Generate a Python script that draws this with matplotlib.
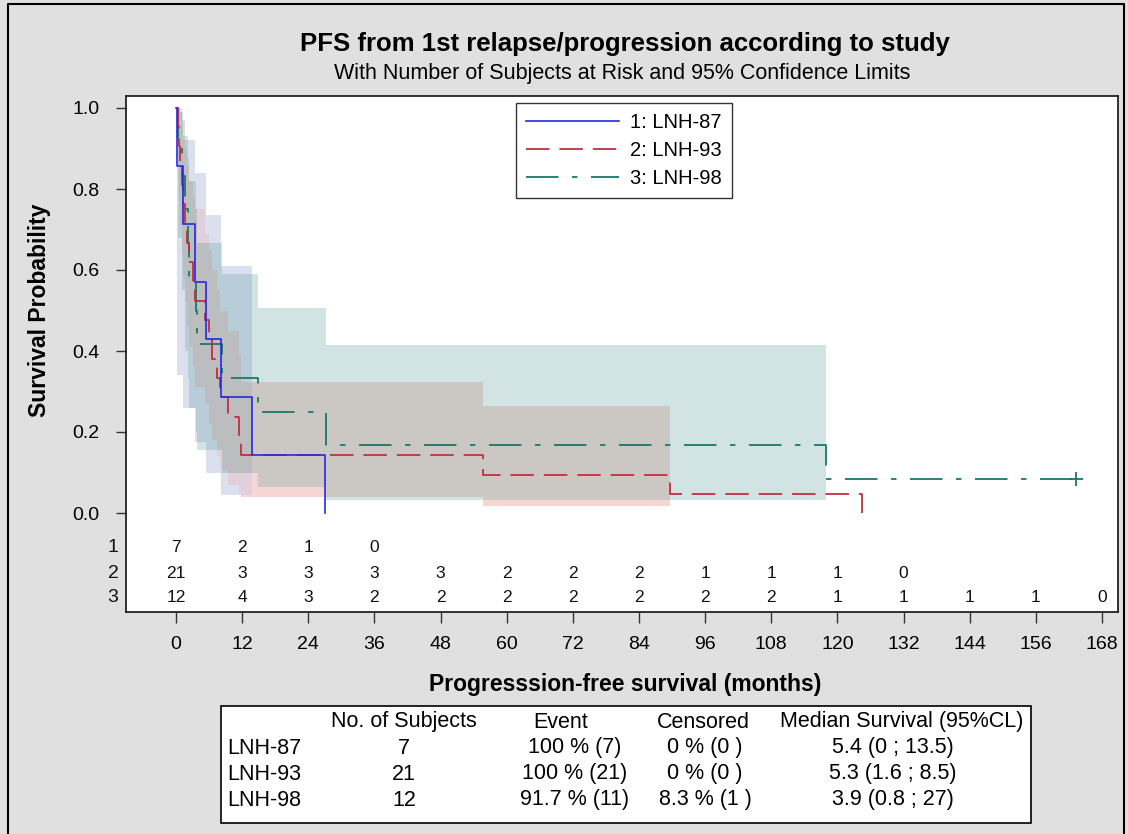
import numpy as np
import matplotlib
matplotlib.use('Agg')
import matplotlib.pyplot as plt
from matplotlib.lines import Line2D
from matplotlib.patches import Rectangle
import matplotlib.transforms as mtransforms

plt.rcParams['font.family'] = ['Liberation Sans', 'DejaVu Sans']

# ---------------- data ----------------
legend_labels = ['1: LNH-87', '2: LNH-93', '3: LNH-98']

# Kaplan-Meier curves: times (months) and survival after each step
t87 = [0, 0.2, 1.3, 3.4, 5.4, 8.1, 13.7, 27.0]
s87 = [1.0, 0.857, 0.714, 0.571, 0.429, 0.286, 0.143, 0.0]

t93 = [0, 0.3, 0.5, 0.8, 1.0, 1.2, 1.6, 2.0, 2.4, 3.0, 3.5, 5.3, 6.0, 6.6, 7.4,
       8.0, 9.4, 11.4, 11.8, 55.7, 89.7, 124.4]
s93 = [1.0, 0.952, 0.905, 0.857, 0.810, 0.762, 0.714, 0.667, 0.619, 0.571, 0.524,
       0.476, 0.429, 0.381, 0.333, 0.286, 0.238, 0.190, 0.143, 0.095, 0.048, 0.0]

t98 = [0, 0.4, 1.0, 1.6, 2.2, 2.4, 3.6, 3.9, 8.3, 14.9, 27.3, 118.0, 163.3]
s98 = [1.0, 0.917, 0.833, 0.75, 0.667, 0.583, 0.5, 0.417, 0.333, 0.25, 0.167,
       0.083, 0.083]
censor98_t = [163.3]
censor98_s = [0.083]

# 95% confidence bands (one value per step interval)
lo87 = [0.34, 0.26, 0.175, 0.10, 0.044]
hi87 = [0.99, 0.92, 0.84, 0.735, 0.61]
lo93 = [0.86, 0.77, 0.71, 0.64, 0.58, 0.52, 0.46, 0.41, 0.36, 0.31, 0.27, 0.22,
        0.18, 0.14, 0.106, 0.07, 0.05, 0.04, 0.017]
hi93 = [1.0, 1.0, 0.99, 0.96, 0.93, 0.90, 0.86, 0.82, 0.78, 0.75, 0.69, 0.65,
        0.60, 0.55, 0.50, 0.45, 0.39, 0.324, 0.264]
lo98 = [0.68, 0.55, 0.40, 0.33, 0.26, 0.20, 0.155, 0.10, 0.065, 0.032]
hi98 = [1.0, 0.97, 0.93, 0.88, 0.82, 0.75, 0.667, 0.59, 0.505, 0.415]

# number at risk
risk_times = [0, 12, 24, 36, 48, 60, 72, 84, 96, 108, 120, 132, 144, 156, 168]
risk87 = [7, 2, 1, 0]
risk93 = [21, 3, 3, 3, 3, 2, 2, 2, 1, 1, 1, 0]
risk98 = [12, 4, 3, 2, 2, 2, 2, 2, 2, 2, 1, 1, 1, 1, 0]

# summary table
tab_groups = ['LNH-87', 'LNH-93', 'LNH-98']
tab_n = ['7', '21', '12']
tab_event = ['100 % (7)', '100 % (21)', '91.7 % (11)']
tab_cens = ['0 % (0 )', '0 % (0 )', '8.3 % (1 )']
tab_median = ['5.4 (0 ; 13.5)', '5.3 (1.6 ; 8.5)', '3.9 (0.8 ; 27)']
tab_header = ['No. of Subjects', 'Event', 'Censored', 'Median Survival (95%CL)']

# ---------------- styling ----------------
c_blue = '#2828e6'
c_red = '#c0303f'
c_green = '#1b7868'
ls_red = (0, (13, 5.5))
ls_green = (0, (18, 7.5, 3, 7.5))
band_colors = {
    'B': '#dbdfee', 'R': '#f6d6d3', 'G': '#d2e3e3',
    'BR': '#e0d0da', 'BG': '#b8cdd7', 'RG': '#cbc8c4', 'BRG': '#bbbdbf',
}

W, H = 1128, 834
fig = plt.figure(figsize=(W / 100, H / 100), dpi=100, facecolor='#e0e0e0')


def fx(px):
    return px / W


def fy(py):
    return 1 - py / H


ax = fig.add_axes([fx(126), fy(612), fx(1118) - fx(126), fy(96) - fy(612)])
ax.set_facecolor('white')

px_per_month = (1102 - 176) / 168.0
ax.set_xlim((126 - 176) / px_per_month, (1118 - 176) / px_per_month)
ax.set_ylim(-(612 - 513) / 405.0, (513 - 96) / 405.0)

# ---- confidence bands with explicit overlap colours ----
bands = {
    'B': (t87[1:len(lo87) + 2], lo87, hi87),
    'R': (t93[1:len(lo93) + 2], lo93, hi93),
    'G': (t98[1:len(lo98) + 2], lo98, hi98),
}


def band_at(edges, lo, hi, x):
    i = np.searchsorted(edges, x, side='right') - 1
    if 0 <= i < len(lo):
        return lo[i], hi[i]
    return None


all_edges = sorted(set().union(*[set(b[0]) for b in bands.values()]))
for a, b in zip(all_edges[:-1], all_edges[1:]):
    mid = 0.5 * (a + b)
    present = {}
    for key, (e, l, h) in bands.items():
        r = band_at(e, l, h, mid)
        if r is not None:
            present[key] = r
    ys = sorted({v for r in present.values() for v in r})
    for y0, y1 in zip(ys[:-1], ys[1:]):
        ym = 0.5 * (y0 + y1)
        cover = ''.join(k for k in 'BRG' if k in present and present[k][0] <= ym <= present[k][1])
        if cover:
            ax.bar(a, y1 - y0, width=b - a, bottom=y0, align='edge',
                   color=band_colors[cover], linewidth=0, antialiased=False, zorder=1)

# ---- KM curves ----
ax.step(t98, s98, where='post', color=c_green, lw=1.3, ls=ls_green, zorder=3)
ax.step(t93, s93, where='post', color=c_red, lw=1.3, ls=ls_red, zorder=4)
ax.step(t87, s87, where='post', color=c_blue, lw=1.2, ls='-', zorder=5)
ax.plot(censor98_t, censor98_s, ls='none', marker='+', ms=10, mew=1.3, color=c_green, zorder=6)

# ---- axes ----
ax.set_xticks(risk_times)
ax.set_xticklabels([str(v) for v in risk_times])
yt = [0.0, 0.2, 0.4, 0.6, 0.8, 1.0]
ax.set_yticks(yt)
ax.set_yticklabels(['%.1f' % v for v in yt])
ax.tick_params(axis='x', length=8, width=1.0, pad=9, labelsize=14, color='#333333')
ax.tick_params(axis='y', length=7, width=1.0, pad=12, labelsize=14, color='#333333')
for sp in ax.spines.values():
    sp.set_linewidth(1.3)
    sp.set_color('#222222')

# ---- at risk ----
blend = mtransforms.blended_transform_factory(ax.transData, ax.transAxes)
row_y = [(612 - 548) / 516.0, (612 - 573) / 516.0, (612 - 598) / 516.0]
for row, counts in enumerate([risk87, risk93, risk98]):
    for tt, n in zip(risk_times, counts):
        ax.text(tt, row_y[row], str(n), transform=blend, ha='center', va='center',
                fontsize=12.5, color='#111111')
    ax.text((113 - 126) / 992.0, row_y[row], str(row + 1), transform=ax.transAxes,
            ha='center', va='center', fontsize=14, color='#111111')

# ---- legend ----
handles = [Line2D([], [], color=c_blue, lw=1.2, ls='-'),
           Line2D([], [], color=c_red, lw=1.3, ls=ls_red),
           Line2D([], [], color=c_green, lw=1.3, ls=ls_green)]
leg = ax.legend(handles, legend_labels, loc='upper left',
                bbox_to_anchor=((516 - 126) / 992.0, (612 - 103) / 516.0),
                fontsize=14.5, handlelength=4.6, handletextpad=0.55, borderpad=0.5,
                labelspacing=0.45, frameon=True, fancybox=False, borderaxespad=0)
leg.get_frame().set_edgecolor('black')
leg.get_frame().set_linewidth(1.0)

# ---- titles & labels ----
fig.text(fx(625), fy(44), 'PFS from 1st relapse/progression according to study',
         ha='center', va='center', fontsize=18.5, fontweight='bold')
fig.text(fx(622), fy(73), 'With Number of Subjects at Risk and 95% Confidence Limits',
         ha='center', va='center', fontsize=15.5)
fig.text(fx(40), fy(310), 'Survival Probability', rotation=90, ha='center', va='center',
         fontsize=16.5, fontweight='bold')
fig.text(fx(625), fy(685), 'Progresssion-free survival (months)', ha='center', va='center',
         fontsize=16.5, fontweight='bold')

# ---- summary table ----
fig.patches.append(Rectangle((fx(221), fy(823)), fx(1031) - fx(221), fy(706) - fy(823),
                             transform=fig.transFigure, facecolor='white',
                             edgecolor='black', linewidth=1.2))
col_x = [404, 561, 703, 902]
for cx, htxt in zip(col_x, tab_header):
    fig.text(fx(cx), fy(722), htxt, ha='center', va='center', fontsize=15.5)
val_x = [404, 575, 705, 893]
row_py = [748, 774, 800]
for i, g in enumerate(tab_groups):
    fig.text(fx(227), fy(row_py[i]), g, ha='left', va='center', fontsize=15.5)
    for cx, val in zip(val_x, [tab_n[i], tab_event[i], tab_cens[i], tab_median[i]]):
        fig.text(fx(cx), fy(row_py[i]), val, ha='center', va='center', fontsize=15.5)

# ---- figure border ----
fig.lines.append(Line2D([fx(8), fx(8), fx(1124), fx(1124)], [0, fy(4), fy(4), 0],
                        transform=fig.transFigure, color='black', lw=1.5))

fig.savefig('out.png', dpi=100, facecolor=fig.get_facecolor())
